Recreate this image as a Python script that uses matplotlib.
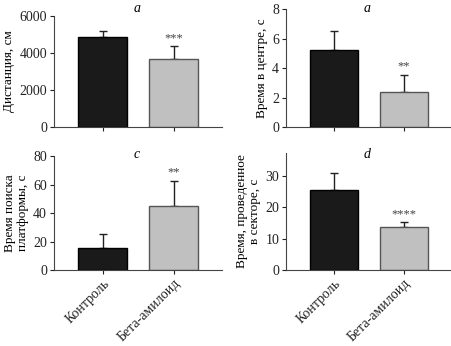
import numpy as np
import matplotlib
matplotlib.use("Agg")
import matplotlib.pyplot as plt

plt.rcParams['font.family'] = ['Liberation Serif', 'DejaVu Serif']

groups = ["Контроль", "Бета-амилоид"]

dist_mean = [4880, 3680]
dist_err = [320, 670]

center_mean = [5.25, 2.35]
center_err = [1.3, 1.2]

search_mean = [15.5, 45]
search_err = [9.5, 17.5]

sector_mean = [25.5, 13.7]
sector_err = [5.3, 1.5]

panels = [
    # mean, err, ylabel, letter, letter pos (px), stars, yticks, ylim, rect
    (dist_mean, dist_err, "Дистанция, см", "a", (137, 9), "***", [0, 2000, 4000, 6000], 6000,
     [0.1195, 0.633, 0.372, 0.321], False),
    (center_mean, center_err, "Время в центре, с", "a", (367, 9), "**", [0, 2, 4, 6, 8], 8,
     [0.633, 0.633, 0.367, 0.340], False),
    (search_mean, search_err, "Время поиска\nплатформы, с", "c", (137, 155), "**", [0, 20, 40, 60, 80], 80,
     [0.1195, 0.2197, 0.372, 0.329], True),
    (sector_mean, sector_err, "Время, проведенное\nв секторе, с", "d", (367, 154), "****", [0, 10, 20, 30], 37.3,
     [0.633, 0.2197, 0.367, 0.338], True),
]

W, H = 452, 346
fig = plt.figure(figsize=(W / 100, H / 100), dpi=100)
x = np.arange(len(groups))

for mean, err, ylabel, letter, lpos, stars, yticks, ytop, rect, show_x in panels:
    ax = fig.add_axes(rect)
    ax.bar(x, mean, width=0.686, color=["#1a1a1a", "#c0c0c0"],
           edgecolor=["#000000", "#555555"], linewidth=1.0, zorder=2)
    ax.errorbar(x, mean, yerr=[[0, 0], err], fmt="none", ecolor="#222222",
                elinewidth=1.0, capsize=3, capthick=1.0, zorder=1)
    ax.set_xlim(-0.686, 1.686)
    ax.set_ylim(0, ytop)
    ax.set_yticks(yticks)
    ax.set_xticks(x)
    if show_x:
        ax.set_xticklabels(groups, rotation=45, ha="right", rotation_mode="anchor", fontsize=10)
    else:
        ax.set_xticklabels([])
    ax.tick_params(direction="out", length=3, width=0.8, labelsize=10, colors="#222222", pad=2)
    for s in ["top", "right"]:
        ax.spines[s].set_visible(False)
    for s in ["left", "bottom"]:
        ax.spines[s].set_linewidth(0.8)
        ax.spines[s].set_color("#444444")
    ax.set_ylabel(ylabel, fontsize=9.5, linespacing=1.1, labelpad=3)
    fig.text(lpos[0] / W, 1 - lpos[1] / H, letter, ha="center", va="center",
             style="italic", fontsize=10)
    top = mean[1] + err[1]
    ax.text(1, top + ytop * 0.02, stars, ha="center", va="bottom", fontsize=9, color="#444444")

fig.savefig("out.png", dpi=100)
